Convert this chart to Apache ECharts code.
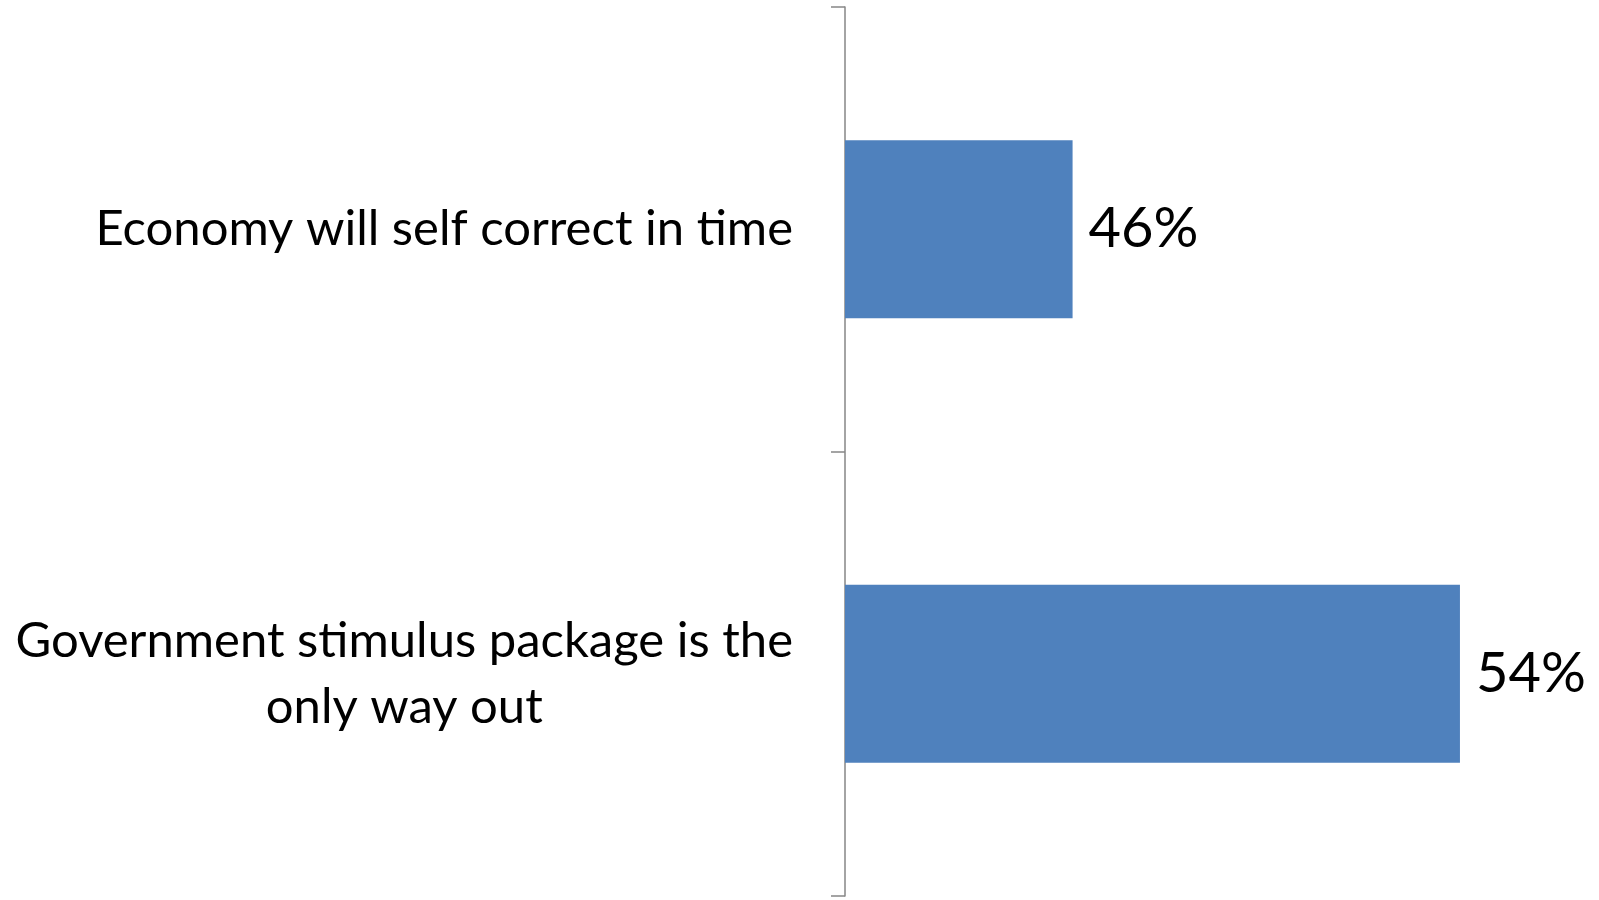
<!DOCTYPE html>
<html>
<head>
<meta charset="utf-8">
<script src="https://cdn.jsdelivr.net/npm/echarts@6/dist/echarts.min.js"></script>
<style>
html,body{margin:0;padding:0;background:#fff;}
#chart{width:1599px;height:900px;}
</style>
</head>
<body>
<div id="chart"></div>
<script>
var categories = ['Economy will self correct in time', 'Government stimulus package is the\nonly way out'];
var values = [46, 54];
var valueLabels = ['46%', '54%'];

var FONT = 'Lato';
var CAT_SIZE = 49;
var VAL_SIZE = 56;

function measure(text, size) {
  var c = document.createElement('canvas').getContext('2d');
  c.font = size + 'px ' + FONT;
  return c.measureText(text).width;
}

var chart = echarts.init(document.getElementById('chart'));
chart.setOption({
  backgroundColor: '#ffffff',
  animation: false,
  grid: { left: 845, right: 18, top: 7, bottom: 4, containLabel: false, outerBoundsMode: 'none' },
  xAxis: {
    type: 'value', min: 41.3, max: 56.5, show: false
  },
  yAxis: {
    type: 'category',
    inverse: true,
    data: categories,
    axisLine: { show: true, lineStyle: { color: '#868686', width: 1.5 } },
    axisTick: { show: true, length: 14, lineStyle: { color: '#868686', width: 1.5 } },
    axisLabel: {
      margin: 52,
      color: '#000',
      fontFamily: FONT,
      fontSize: CAT_SIZE,
      lineHeight: 66,
      formatter: function (v) {
        var lines = v.split('\n');
        if (lines.length === 1) return v;
        return lines.map(function (l) { return '{c|' + l + '}'; }).join('\n');
      },
      rich: {
        c: {
          fontFamily: FONT, fontSize: CAT_SIZE, color: '#000', lineHeight: 66,
          align: 'center',
          width: measure('Government stimulus package is the', CAT_SIZE)
        }
      }
    }
  },
  series: [{
    type: 'bar',
    data: values,
    barWidth: '40%',
    itemStyle: { color: '#4F81BD' },
    label: {
      show: true,
      position: 'right',
      distance: 16,
      color: '#000',
      fontFamily: FONT,
      fontSize: VAL_SIZE,
      formatter: function (p) { return valueLabels[p.dataIndex]; }
    }
  }]
});
</script>
</body>
</html>
